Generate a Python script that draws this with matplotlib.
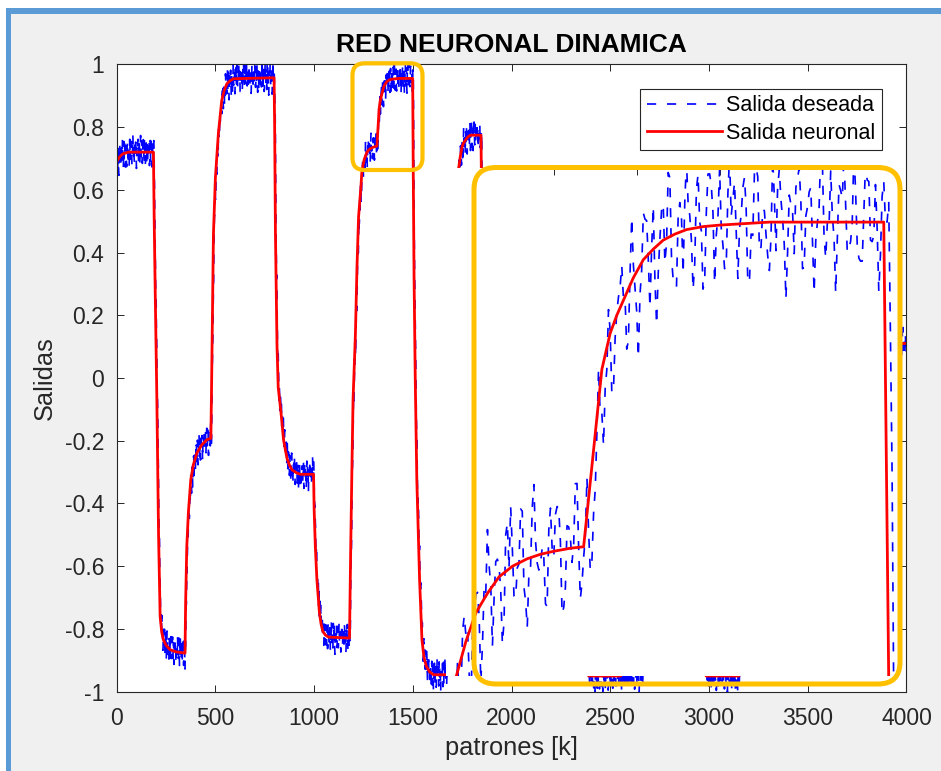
import numpy as np
import matplotlib
matplotlib.use("Agg")
import matplotlib.pyplot as plt
from matplotlib.patches import Rectangle, FancyBboxPatch

plt.rcParams['font.family'] = ['Liberation Sans', 'DejaVu Sans']
plt.rcParams['axes.unicode_minus'] = False

# --- data ---
# red: network output, knots (k, y)
red_k = [0, 8, 15, 24, 33, 60, 186, 190, 195, 203, 212, 220, 228, 236, 250, 270, 300, 346,
         349, 355, 363, 375, 388, 406, 431, 456, 477,
         480, 490, 500, 515, 532, 545, 558, 575, 591, 797,
         800, 804, 812, 818, 832, 845, 862, 875, 888, 910, 930, 997,
         1000, 1006, 1014, 1027, 1035, 1044, 1058, 1073, 1179,
         1185, 1191, 1197, 1209, 1217, 1225, 1237, 1241, 1247, 1253, 1260, 1267, 1275,
         1284, 1292, 1300, 1310, 1318,
         1329, 1334, 1338, 1342, 1348, 1354, 1360, 1366, 1373, 1380, 1390, 1400, 1430, 1499,
         1502, 1506, 1512, 1520, 1534, 1546, 1556, 1568, 1585, 1605, 1675,
         1700, 1720, 1731, 1740, 1749, 1757, 1766, 1778, 1791, 1845,
         1852, 1870, 2385, 2390, 2553, 2560, 2980, 2985, 3152, 3160, 4000]
red_y = [0.69, 0.698, 0.705, 0.711, 0.715, 0.72, 0.72, 0.5, 0.28, -0.05, -0.5, -0.76, -0.81, -0.834,
         -0.852, -0.866, -0.873, -0.877,
         -0.72, -0.537, -0.43, -0.325, -0.277, -0.239, -0.213, -0.197, -0.192,
         -0.05, 0.46, 0.64, 0.78, 0.885, 0.918, 0.938, 0.948, 0.954, 0.957,
         0.8, 0.46, 0.1, -0.03, -0.11, -0.197, -0.255, -0.278, -0.293, -0.302, -0.307, -0.307,
         -0.42, -0.537, -0.643, -0.75, -0.784, -0.808, -0.82, -0.826, -0.829,
         -0.55, -0.3, -0.07, 0.14, 0.355, 0.514, 0.61, 0.652, 0.676, 0.695, 0.708, 0.719, 0.726,
         0.731, 0.734, 0.736, 0.738, 0.739,
         0.857, 0.881, 0.893, 0.903, 0.918, 0.930, 0.937, 0.943, 0.947, 0.950, 0.952, 0.953, 0.955, 0.955,
         0.65, 0.32, 0.0, -0.325, -0.643, -0.834, -0.89, -0.919, -0.937, -0.946, -0.946,
         -0.4, 0.4, 0.665, 0.705, 0.737, 0.75, 0.758, 0.768, 0.774, 0.774,
         0.3, 0.2, 0.2, -0.95, -0.95, 0.3, 0.3, -0.95, -0.95, 0.11, 0.11]

# blue: desired output = same trajectory, small lag, plus measurement noise
blue_lag = 3
blue_hold = (2553, 2665, -0.95)
noise_a = [0.012, 0.031, 0.018, -0.006, -0.027, -0.015, 0.009, 0.036, 0.024, -0.003,
           -0.031, -0.040, -0.018, 0.005, 0.028, 0.041, 0.022, -0.008, -0.022, 0.001,
           0.019, -0.012, -0.035, -0.026, 0.004, 0.033, 0.015, -0.010, 0.011, 0.038,
           0.027, -0.005, -0.029, -0.043, -0.021, 0.007, 0.025, 0.002, -0.017, 0.014,
           0.039, 0.030, 0.006, -0.020, -0.034, -0.009, 0.016, 0.034, 0.013, -0.014,
           -0.038, -0.024, 0.003, 0.021, 0.043, 0.026, -0.002, -0.025, -0.011, 0.010,
           0.029, 0.008, -0.019, -0.037, -0.016, 0.017, 0.032]
noise_b = [0.008, -0.011, 0.004, 0.013, -0.006, -0.014, 0.010, 0.002, -0.009, 0.012,
           -0.003, -0.012, 0.007, 0.014, -0.008, 0.001, 0.011, -0.013, 0.005, -0.004,
           0.009, -0.010, 0.006]

xticks = [0, 500, 1000, 1500, 2000, 2500, 3000, 3500, 4000]
yticks = [-1, -0.8, -0.6, -0.4, -0.2, 0, 0.2, 0.4, 0.6, 0.8, 1]
zoom_xlim = (1235, 1510)
zoom_ylim = (0.653, 0.991)
zoom_xticks = [1300, 1350, 1400]

k = np.arange(0, 4000)
blue = np.interp(k - blue_lag, red_k, red_y)
h0, h1, hv = blue_hold
blue[(k >= h0) & (k <= h1)] = hv
blue = blue + np.resize(noise_a, k.size) + np.resize(noise_b, k.size)

DARK = '#262626'
DASH = (0, (5.5, 6.5))
fig = plt.figure(figsize=(9.41, 7.71), dpi=100)
fig.patch.set_facecolor('white')

# window background and blue frame
bg = fig.add_axes([0, 0, 1, 1], zorder=-10)
bg.set_xlim(0, 941)
bg.set_ylim(771, 0)
bg.axis('off')
bg.add_patch(Rectangle((7, 8.5), 934, 763, facecolor='#F0F0F0', edgecolor='none'))
bg.add_patch(Rectangle((6.5, 8.3), 5, 763, facecolor='#5B9BD5', edgecolor='none'))
bg.add_patch(Rectangle((6.5, 8.3), 935, 5.5, facecolor='#5B9BD5', edgecolor='none'))

# main axes
ax = fig.add_axes([116.7 / 941, 1 - 691.7 / 771, 789.8 / 941, 627.4 / 771], zorder=1)
ax.set_facecolor('white')
ax.plot(k, blue, color='#0000FF', lw=1.2, linestyle=DASH, label='Salida deseada')
ax.plot(red_k, red_y, color='#FF0000', lw=2.0, label='Salida neuronal')
ax.set_xlim(0, 4000)
ax.set_ylim(-1, 1)
ax.set_xticks(xticks)
ax.set_yticks(yticks)
ax.set_xticklabels([f'{v:g}' for v in xticks])
ax.set_yticklabels([f'{v:g}' for v in yticks])
ax.tick_params(direction='in', length=5, width=0.7, top=True, right=True,
               colors=DARK, labelsize=16.5)
ax.tick_params(axis='x', pad=11)
ax.tick_params(axis='y', pad=9)
for s in ax.spines.values():
    s.set_color(DARK)
    s.set_linewidth(0.8)
ax.set_title('RED NEURONAL DINAMICA', fontsize=19, fontweight='bold', pad=9)
ax.set_xlabel('patrones [k]', fontsize=18.3, color=DARK, labelpad=4)
ax.set_ylabel('Salidas', fontsize=18.3, color=DARK, labelpad=6)
leg = ax.legend(loc='upper right', bbox_to_anchor=(0.969, 0.9606), borderaxespad=0,
                fancybox=False, edgecolor=DARK, framealpha=1, fontsize=15.5,
                handlelength=3.5, handletextpad=0.2, borderpad=0.3, labelspacing=0.3)
leg.get_frame().set_linewidth(0.8)

# magnified inset
ins = fig.add_axes([446 / 941, 1 - 676 / 771, 456 / 941, 508 / 771], zorder=2)
ins.set_facecolor('white')
ins.plot(k, blue, color='#0000FF', lw=1.2, linestyle=DASH)
ins.plot(red_k, red_y, color='#FF0000', lw=2.0)
ins.set_xlim(*zoom_xlim)
ins.set_ylim(*zoom_ylim)
for s in ins.spines.values():
    s.set_visible(False)
ins.set_xticks(zoom_xticks)
ins.set_yticks([])
ins.tick_params(axis='x', direction='in', length=5, width=0.7, colors=DARK,
                top=True, bottom=False, labeltop=False, labelbottom=False)

# orange annotation boxes (pixel coordinates)
ov = fig.add_axes([0, 0, 1, 1], zorder=3)
ov.set_xlim(0, 941)
ov.set_ylim(771, 0)
ov.axis('off')
ov.patch.set_alpha(0)
ov.add_patch(FancyBboxPatch((474, 167.5), 426, 516.5, boxstyle='round,pad=0,rounding_size=22',
                            facecolor='none', edgecolor='#FFC000', lw=3.6))
ov.add_patch(FancyBboxPatch((352.5, 63.3), 70, 106.7, boxstyle='round,pad=0,rounding_size=12',
                            facecolor='none', edgecolor='#FFC000', lw=3.0))

fig.savefig('out.png', dpi=100)
